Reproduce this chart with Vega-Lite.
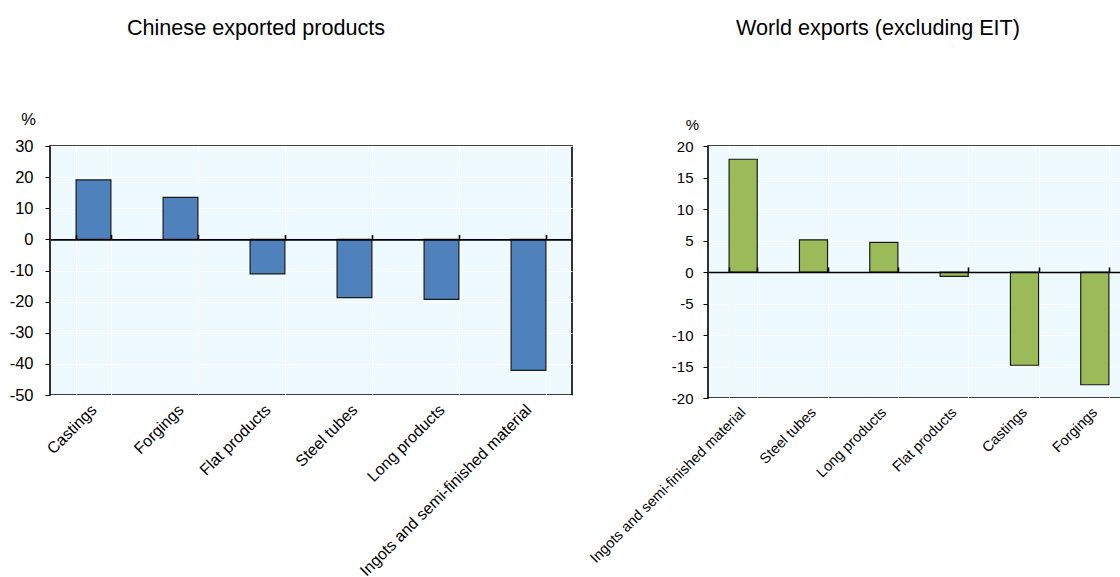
{
  "$schema": "https://vega.github.io/schema/vega-lite/v6.json",
  "padding": {"left": 8, "top": 17, "right": 0, "bottom": 0},
  "background": "#ffffff",
  "datasets": {
    "china": [
      {"product": "Castings", "value": 19.1},
      {"product": "Forgings", "value": 13.5},
      {"product": "Flat products", "value": -11.1},
      {"product": "Steel tubes", "value": -18.7},
      {"product": "Long products", "value": -19.3},
      {"product": "Ingots and semi-finished material", "value": -42.1}
    ],
    "world": [
      {"product": "Ingots and semi-finished material", "value": 17.9},
      {"product": "Steel tubes", "value": 5.1},
      {"product": "Long products", "value": 4.7},
      {"product": "Flat products", "value": -0.7},
      {"product": "Castings", "value": -14.8},
      {"product": "Forgings", "value": -17.9}
    ]
  },
  "hconcat": [
    {
      "width": 522,
      "height": 249,
      "title": {"text": "Chinese exported products", "dx": -55, "offset": 71},
      "data": {"name": "china"},
      "encoding": {
        "y": {
          "field": "value", "type": "quantitative",
          "scale": {"domain": [-50, 30], "nice": false, "zero": false},
          "axis": {"values": [-50, -40, -30, -20, -10, 0, 10, 20, 30], "labelExpr": "toString(datum.value)", "title": "%", "titleAngle": 0, "titleX": -22, "titleY": -27, "titleAlign": "center", "titleBaseline": "middle", "titleFontSize": 16.5, "labelFontSize": 16.5, "labelPadding": 12, "tickSize": 5, "domain": false, "grid": true, "gridColor": "#ffffff", "gridWidth": 1}
        }
      },
      "layer": [
        {
          "mark": {"type": "bar", "fill": "#4F81BD", "stroke": "#1a1a1a", "strokeWidth": 1.2},
          "encoding": {
            "x": {
              "field": "product", "type": "nominal", "sort": null,
              "scale": {"paddingInner": 0.6, "paddingOuter": 0.3},
              "axis": {"orient": "bottom", "title": null, "ticks": false, "domain": false, "labelAngle": -45, "labelAlign": "right", "labelBaseline": "middle", "labelFontSize": 16, "labelPadding": 12, "labelLimit": 0, "tickBand": "extent", "grid": true, "gridColor": "#ffffff", "gridWidth": 1}
            }
          }
        },
        {
          "mark": {"type": "bar", "opacity": 0},
          "encoding": {
            "x": {
              "field": "product", "type": "nominal", "sort": null,
              "axis": {"orient": "top", "offset": -93.4, "title": null, "labels": false, "tickBand": "extent", "tickSize": 5, "grid": false, "zindex": 1, "domainWidth": 1.6, "tickWidth": 1.6}
            }
          }
        }
      ],
      "resolve": {"axis": {"x": "independent"}}
    },
    {
      "width": 422,
      "height": 252,
      "title": {"text": "World exports (excluding EIT)", "dx": -41, "offset": 77},
      "data": {"name": "world"},
      "encoding": {
        "y": {
          "field": "value", "type": "quantitative",
          "scale": {"domain": [-20, 20], "nice": false, "zero": false},
          "axis": {"values": [-20, -15, -10, -5, 0, 5, 10, 15, 20], "labelExpr": "toString(datum.value)", "title": "%", "titleAngle": 0, "titleX": -16, "titleY": -22, "titleAlign": "center", "titleBaseline": "middle", "titleFontSize": 15, "labelFontSize": 15, "labelPadding": 10, "tickSize": 5, "domain": false, "grid": true, "gridColor": "#ffffff", "gridWidth": 1}
        }
      },
      "layer": [
        {
          "mark": {"type": "bar", "fill": "#9BBB59", "stroke": "#1a1a1a", "strokeWidth": 1.2},
          "encoding": {
            "x": {
              "field": "product", "type": "nominal", "sort": null,
              "scale": {"paddingInner": 0.6, "paddingOuter": 0.3},
              "axis": {"orient": "bottom", "title": null, "ticks": false, "domain": false, "labelAngle": -45, "labelAlign": "right", "labelBaseline": "middle", "labelFontSize": 14.5, "labelPadding": 12, "labelLimit": 0, "tickBand": "extent", "grid": true, "gridColor": "#ffffff", "gridWidth": 1}
            }
          }
        },
        {
          "mark": {"type": "bar", "opacity": 0},
          "encoding": {
            "x": {
              "field": "product", "type": "nominal", "sort": null,
              "axis": {"orient": "top", "offset": -126, "title": null, "labels": false, "tickBand": "extent", "tickSize": 5, "grid": false, "zindex": 1, "domainWidth": 1.6, "tickWidth": 1.6}
            }
          }
        }
      ],
      "resolve": {"axis": {"x": "independent"}}
    }
  ],
  "spacing": 13,
  "config": {
    "font": "Liberation Sans",
    "view": {"fill": "#EFFAFE", "stroke": "#000000", "strokeWidth": 1.6},
    "title": {"fontSize": 21.6, "fontWeight": "normal", "color": "#000000", "anchor": "middle"},
    "axis": {"labelColor": "#000000", "titleColor": "#000000", "tickColor": "#000000", "domainColor": "#000000", "titleFontWeight": "normal", "labelFont": "Liberation Sans", "titleFont": "Liberation Sans"}
  }
}
